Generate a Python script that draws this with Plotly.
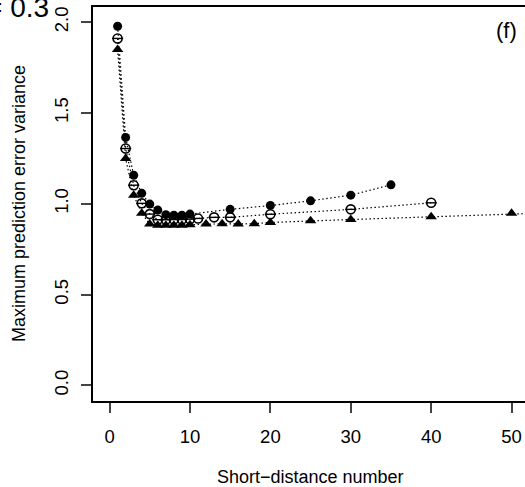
import plotly.graph_objects as go

# ---- data ----
x_filled = [1, 2, 3, 4, 5, 6, 7, 8, 9, 10, 15, 20, 25, 30, 35]
y_filled = [1.977, 1.365, 1.157, 1.057, 0.998, 0.965, 0.940, 0.937, 0.937, 0.943,
            0.969, 0.990, 1.016, 1.047, 1.104]

x_theta = [1, 2, 3, 4, 5, 6, 7, 8, 9, 10, 11, 13, 15, 20, 30, 40]
y_theta = [1.910, 1.304, 1.102, 1.002, 0.943, 0.912, 0.912, 0.913, 0.913, 0.915,
           0.919, 0.925, 0.925, 0.942, 0.969, 1.005]

x_tri = [1, 2, 3, 4, 5, 6, 7, 8, 9, 10, 12, 14, 16, 18, 20, 25, 30, 40, 50, 75]
y_tri = [1.849, 1.249, 1.047, 0.947, 0.888, 0.882, 0.882, 0.882, 0.882, 0.884,
         0.888, 0.890, 0.888, 0.890, 0.897, 0.906, 0.913, 0.928, 0.947, 0.980]

x_ticks = [0, 10, 20, 30, 40, 50]
y_ticks = [0.0, 0.5, 1.0, 1.5, 2.0]
y_ticklabels = ["0.0", "0.5", "1.0", "1.5", "2.0"]

FONT = "Liberation Sans, Arial, sans-serif"
dot = dict(color="black", width=1.2, dash="1.5px,2.5px")

fig = go.Figure()
fig.add_trace(go.Scatter(x=x_filled, y=y_filled, mode="lines+markers", line=dot,
                         marker=dict(symbol="circle", size=9, color="black"),
                         showlegend=False, cliponaxis=False))
fig.add_trace(go.Scatter(x=x_theta, y=y_theta, mode="lines+markers", line=dot,
                         marker=dict(symbol="circle-open", size=9, color="black",
                                     line=dict(width=1.6, color="black")),
                         showlegend=False, cliponaxis=False))
fig.add_trace(go.Scatter(x=x_theta, y=y_theta, mode="markers",
                         marker=dict(symbol="line-ew", size=8,
                                     line=dict(width=1.4, color="black")),
                         showlegend=False, cliponaxis=False))
fig.add_trace(go.Scatter(x=x_tri, y=y_tri, mode="lines+markers", line=dot,
                         marker=dict(symbol="triangle-up", size=10, color="black"),
                         showlegend=False))

fig.update_layout(
    width=525, height=487,
    margin=dict(l=93, r=0, t=7, b=86),
    paper_bgcolor="white", plot_bgcolor="white",
    font=dict(family=FONT, size=18, color="black"),
    xaxis=dict(range=[-2.06, 51.67], tickvals=x_ticks, ticks="outside", ticklen=10,
               tickwidth=1.5, showgrid=False, zeroline=False, showline=True,
               linewidth=1.5, linecolor="black", mirror=True,
               ticklabelstandoff=8, tickfont=dict(size=18.5)),
    yaxis=dict(range=[-0.086, 2.083], tickvals=y_ticks, ticktext=y_ticklabels,
               ticks="outside", ticklen=10, tickwidth=1.5, tickangle=-90,
               showgrid=False, zeroline=False, showline=True, linewidth=1.5,
               linecolor="black", ticklabelstandoff=6, tickfont=dict(size=18.5)),
    annotations=[
        dict(text="Short\u2212distance number", xref="paper", yref="paper",
             x=(310 - 93) / 432, y=(401 - 477) / 394, xanchor="center", yanchor="middle",
             showarrow=False, font=dict(size=18)),
        dict(text="Maximum prediction error variance", xref="paper", yref="paper",
             x=(19 - 93) / 432, y=0.5, textangle=-90, xanchor="center", yanchor="middle",
             showarrow=False, font=dict(size=18)),
        dict(text="(f)", xref="paper", yref="paper",
             x=(506 - 93) / 432, y=(401 - 31) / 394, xanchor="center", yanchor="middle",
             showarrow=False, font=dict(size=22)),
        dict(text="= 0.3", xref="paper", yref="paper",
             x=(51 - 93) / 432, y=(401 - 8) / 394, xanchor="right", yanchor="middle",
             showarrow=False, font=dict(size=28)),
    ],
)

fig.write_html("out.html")
